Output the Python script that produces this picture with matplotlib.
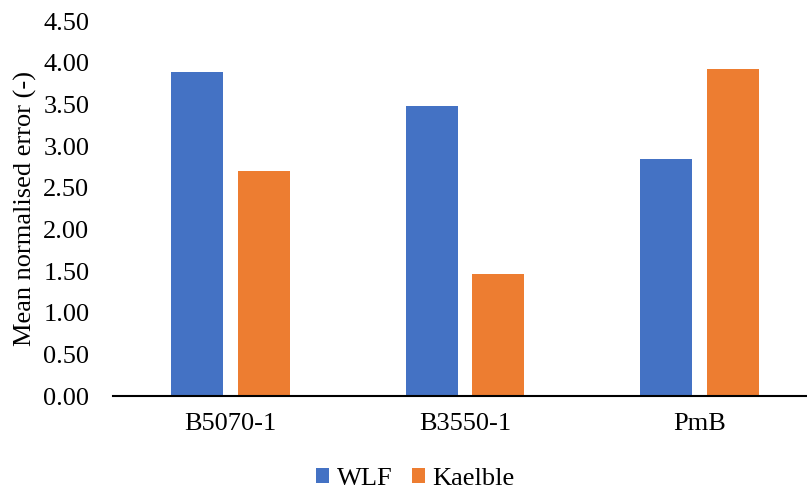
import matplotlib.pyplot as plt
import numpy as np

# Data
categories = ['B5070-1', 'B3550-1', 'PmB']
wlf = [3.89, 3.48, 2.84]
kaelble = [2.70, 1.46, 3.92]

plt.rcParams['font.family'] = ['Liberation Serif', 'DejaVu Serif']

fig = plt.figure(figsize=(8.07, 4.92), dpi=100)
ax = fig.add_axes([0.14, 0.195, 0.86, 0.762])

x = np.arange(len(categories))
w = 0.222
off = 0.1418
ax.bar(x - off, wlf, w, color='#4472C4', label='WLF')
ax.bar(x + off, kaelble, w, color='#ED7D31', label='Kaelble')

ax.set_xlim(-0.5, 2.458)
ax.set_ylim(0, 4.5)
ax.set_yticks(np.arange(0, 4.51, 0.5))
ax.set_yticklabels([f'{v:.2f}' for v in np.arange(0, 4.51, 0.5)])
ax.set_xticks(x)
ax.set_xticklabels(categories)
ax.tick_params(axis='y', length=0, pad=17, labelsize=19)
ax.tick_params(axis='x', length=0, pad=12, labelsize=19)

for s in ['top', 'right', 'left']:
    ax.spines[s].set_visible(False)
ax.spines['bottom'].set_linewidth(1.5)

ax.set_ylabel('Mean normalised error (-)', fontsize=19, labelpad=6)
ax.yaxis.set_label_coords(-0.11, 0.5)

fig.legend(loc='center', bbox_to_anchor=(0.515, 0.027), ncol=2, frameon=False,
           fontsize=19, handlelength=0.5, handleheight=0.5, handletextpad=0.3,
           columnspacing=0.7)

fig.savefig('out.png', dpi=100)
